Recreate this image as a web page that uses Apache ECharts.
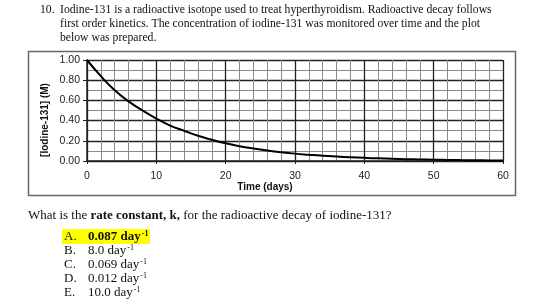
<!DOCTYPE html>
<html>
<head>
<meta charset="utf-8">
<script src="https://cdn.jsdelivr.net/npm/echarts@6/dist/echarts.min.js"></script>
<style>
  html, body { margin: 0; padding: 0; background: #fff; }
  #chart { width: 560px; height: 301px; }
</style>
</head>
<body>
<div id="chart"></div>
<script>
// values (days, M)
const days = [0, 2, 4, 6, 8, 10, 12, 14, 16, 18, 20, 22, 24, 26, 28, 30, 32, 34, 36, 38, 40, 42, 44, 46, 48, 50, 52, 54, 56, 58, 60]
const conc = [1.00, 0.84, 0.70, 0.59, 0.50, 0.42, 0.35, 0.30, 0.25, 0.21, 0.175, 0.147, 0.124, 0.104, 0.087, 0.073, 0.062, 0.052, 0.044, 0.037, 0.031, 0.026, 0.022, 0.018, 0.015, 0.013, 0.011, 0.009, 0.008, 0.006, 0.005]
const xTicks = [0, 10, 20, 30, 40, 50, 60]
const yTicks = ['0.00', '0.20', '0.40', '0.60', '0.80', '1.00']

const questionLines = [
  'Iodine-131 is a radioactive isotope used to treat hyperthyroidism. Radioactive decay follows',
  'first order kinetics. The concentration of iodine-131 was monitored over time and the plot',
  'below was prepared.'
]
const choices = [
  ['A.', '0.087 day', true],
  ['B.', '8.0 day', false],
  ['C.', '0.069 day', false],
  ['D.', '0.012 day', false],
  ['E.', '10.0 day', false]
]

const serif = 'Liberation Serif'
const sans = 'Liberation Sans'

const chart = echarts.init(document.getElementById('chart'))

const graphics = [
  { type: 'rect', shape: { x: 28.5, y: 51.5, width: 487, height: 144 }, style: { fill: 'none', stroke: '#666', lineWidth: 1.5 }, z: 0 },
  { type: 'text', x: 40, y: 10, style: { text: '10.', font: '11.7px ' + serif, fill: '#111', verticalAlign: 'middle' } }
]
questionLines.forEach((t, i) => {
  graphics.push({ type: 'text', x: 60, y: 10 + i * 14, style: { text: t, font: '11.7px ' + serif, fill: '#111', verticalAlign: 'middle' } })
})
graphics.push({
  type: 'text', x: 28, y: 216,
  style: {
    text: 'What is the {b|rate constant, k,} for the radioactive decay of iodine-131?',
    font: '13px ' + serif, fill: '#111', verticalAlign: 'middle',
    rich: { b: { fontFamily: serif, fontSize: 13, fontWeight: 'bold', fill: '#111' } }
  }
})
graphics.push({ type: 'rect', shape: { x: 62, y: 229, width: 88, height: 15 }, style: { fill: '#ffff00' }, z: 1 })
choices.forEach((c, i) => {
  const y = 237 + i * 14
  const w = c[2] ? 'bold' : 'normal'
  graphics.push({ type: 'text', x: 64, y: y, z: 2, style: { text: c[0], font: '13px ' + serif, fill: '#111', verticalAlign: 'middle' } })
  graphics.push({
    type: 'text', x: 88, y: y, z: 2,
    style: {
      text: '{n|' + c[1] + '}{s|-1}',
      verticalAlign: 'middle',
      rich: {
        n: { fontFamily: serif, fontSize: 13, fontWeight: w, fill: '#111', lineHeight: 14 },
        s: { fontFamily: serif, fontSize: 8, fontWeight: w, fill: '#111', verticalAlign: 'top', lineHeight: 14, padding: [0, 0, 6, 1] }
      }
    }
  })
})
graphics.push({
  type: 'text', x: 45, y: 120, rotation: Math.PI / 2,
  style: { text: '[Iodine-131] (M)', font: 'bold 10px ' + sans, fill: '#111', align: 'center', verticalAlign: 'middle' }
})
graphics.push({
  type: 'text', x: 265, y: 187,
  style: { text: 'Time (days)', font: 'bold 10px ' + sans, fill: '#111', align: 'center', verticalAlign: 'middle' }
})

chart.setOption({
  animation: false,
  backgroundColor: '#fff',
  grid: { left: 87, right: 57, top: 60, bottom: 140 },
  xAxis: {
    type: 'value', min: 0, max: 60, interval: 10,
    axisLine: { show: true, lineStyle: { color: '#222', width: 1.5 } },
    axisTick: { show: true, length: 3, lineStyle: { color: '#222' } },
    axisLabel: { color: '#222', fontFamily: sans, fontSize: 10.5, margin: 10, formatter: v => xTicks.includes(v) ? String(v) : '' },
    splitLine: { show: true, lineStyle: { color: '#222', width: 1.3 } },
    minorTick: { show: false, splitNumber: 5 },
    minorSplitLine: { show: true, lineStyle: { color: '#8a8a8a', width: 1 } }
  },
  yAxis: {
    type: 'value', min: 0, max: 1, interval: 0.2,
    axisLine: { show: true, lineStyle: { color: '#222', width: 1.5 } },
    axisTick: { show: true, length: 4, lineStyle: { color: '#222' } },
    axisLabel: { color: '#222', fontFamily: sans, fontSize: 10.5, margin: 7, formatter: v => yTicks[Math.round(v * 5)] },
    splitLine: { show: true, lineStyle: { color: '#222', width: 1.3 } },
    minorTick: { show: false, splitNumber: 2 },
    minorSplitLine: { show: true, lineStyle: { color: '#8a8a8a', width: 1 } }
  },
  series: [{
    type: 'line',
    data: days.map((d, i) => [d, conc[i]]),
    smooth: true,
    showSymbol: false,
    lineStyle: { color: '#000', width: 2 },
    z: 5
  }],
  graphic: graphics
})
</script>
</body>
</html>
